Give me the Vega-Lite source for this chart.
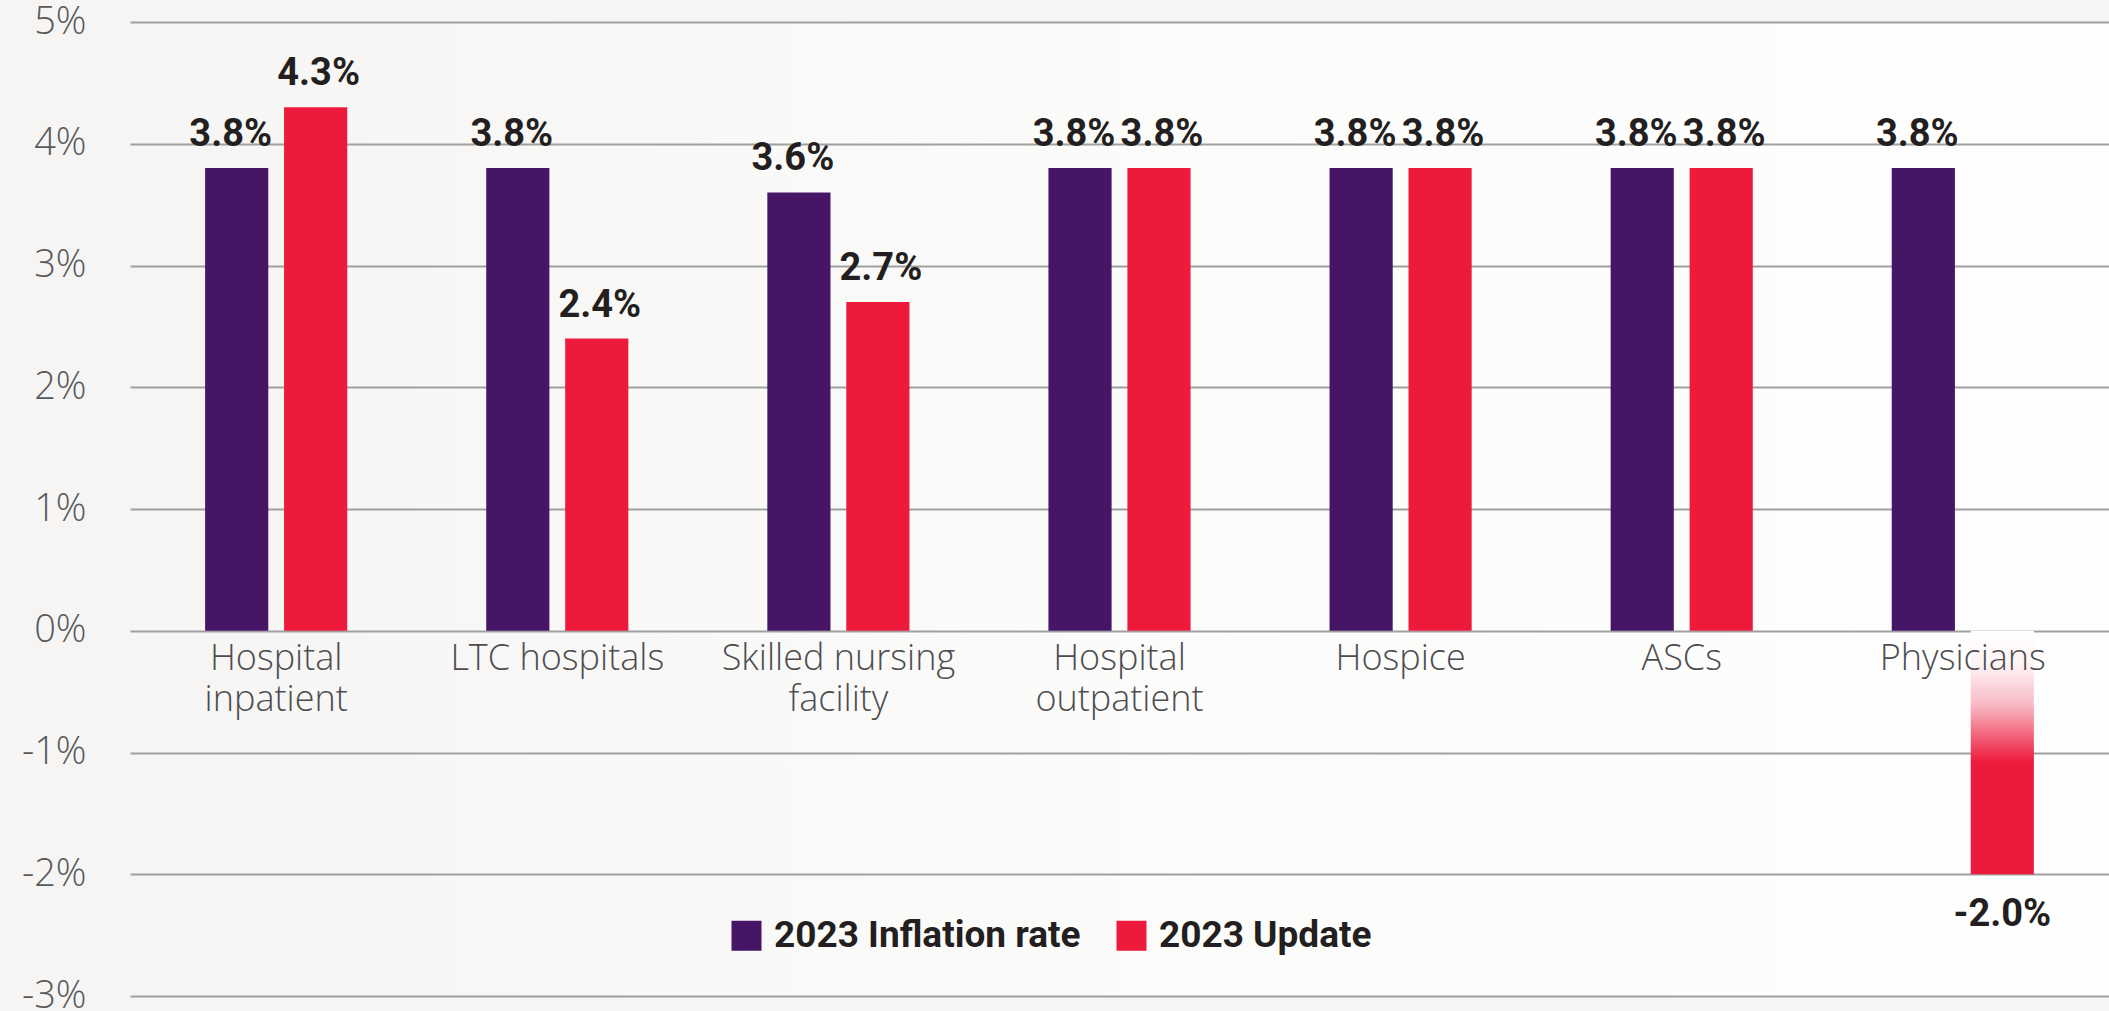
{
  "$schema": "https://vega.github.io/schema/vega-lite/v6.json",
  "width": 1979,
  "height": 974,
  "autosize": {"type": "none"},
  "padding": {"left": 130, "top": 22, "right": 0, "bottom": 15},
  "background": "#f6f5f3",
  "config": {
    "view": {"stroke": null, "fill": {"gradient": "linear", "x1": 0, "y1": 0, "x2": 1, "y2": 0, "stops": [{"offset": 0, "color": "#f6f5f3"}, {"offset": 0.5, "color": "#fbfbfa"}, {"offset": 1, "color": "#fefefe"}]}}
  },
  "data": {
    "values": [
      {"category": "Hospital inpatient", "series": "2023 Inflation rate", "value": 3.8},
      {"category": "Hospital inpatient", "series": "2023 Update", "value": 4.3},
      {"category": "LTC hospitals", "series": "2023 Inflation rate", "value": 3.8},
      {"category": "LTC hospitals", "series": "2023 Update", "value": 2.4},
      {"category": "Skilled nursing facility", "series": "2023 Inflation rate", "value": 3.6},
      {"category": "Skilled nursing facility", "series": "2023 Update", "value": 2.7},
      {"category": "Hospital outpatient", "series": "2023 Inflation rate", "value": 3.8},
      {"category": "Hospital outpatient", "series": "2023 Update", "value": 3.8},
      {"category": "Hospice", "series": "2023 Inflation rate", "value": 3.8},
      {"category": "Hospice", "series": "2023 Update", "value": 3.8},
      {"category": "ASCs", "series": "2023 Inflation rate", "value": 3.8},
      {"category": "ASCs", "series": "2023 Update", "value": 3.8},
      {"category": "Physicians", "series": "2023 Inflation rate", "value": 3.8},
      {"category": "Physicians", "series": "2023 Update", "value": -2.0}
    ]
  },
  "transform": [
    {"calculate": "replace(format(datum.value, '.1f'), '\u2212', '-') + '%'", "as": "label"}
  ],
  "encoding": {
    "x": {
      "field": "category",
      "type": "nominal",
      "sort": ["Hospital inpatient", "LTC hospitals", "Skilled nursing facility", "Hospital outpatient", "Hospice", "ASCs", "Physicians"],
      "scale": {"paddingInner": 0, "paddingOuter": 0.02},
      "axis": {
        "orient": "bottom",
        "offset": -365,
        "title": null,
        "domain": false,
        "ticks": false,
        "grid": false,
        "labelAngle": 0,
        "labelFont": "Open Sans",
        "labelFontWeight": 300,
        "labelFontSize": 36,
        "labelColor": "#4d4d4f",
        "labelPadding": 10,
        "labelLineHeight": 41,
        "labelLimit": 500,
        "labelBaseline": "top",
        "zindex": 1,
        "labelExpr": "datum.label == 'LTC hospitals' || indexof(datum.label, ' ') < 0 ? datum.label : [substring(datum.label, 0, lastindexof(datum.label, ' ')), substring(datum.label, lastindexof(datum.label, ' ') + 1)]"
      }
    },
    "xOffset": {
      "field": "series",
      "type": "nominal",
      "sort": ["2023 Inflation rate", "2023 Update"],
      "scale": {"paddingInner": 0.2, "paddingOuter": 0.88}
    },
    "y": {
      "field": "value",
      "type": "quantitative",
      "scale": {"domain": [-3, 5], "nice": false, "zero": false},
      "axis": {
        "values": [-3, -2, -1, 0, 1, 2, 3, 4, 5],
        "labelExpr": "datum.value + '%'",
        "title": null,
        "domain": false,
        "ticks": false,
        "labelPadding": 44,
        "labelFont": "Open Sans",
        "labelFontWeight": 300,
        "labelFontSize": 38,
        "labelColor": "#58595b",
        "gridColor": "#a0a0a0",
        "gridWidth": 2,
        "gridOpacity": 1
      }
    }
  },
  "layer": [
    {
      "transform": [{"filter": "!(datum.category == 'Physicians' && datum.series == '2023 Update')"}],
      "mark": {"type": "bar"},
      "encoding": {
        "color": {
          "field": "series",
          "type": "nominal",
          "sort": ["2023 Inflation rate", "2023 Update"],
          "scale": {"domain": ["2023 Inflation rate", "2023 Update"], "range": ["#461566", "#ee1a3c"]},
          "legend": {
            "orient": "none",
            "legendX": 598,
            "legendY": 895,
            "direction": "horizontal",
            "title": null,
            "symbolType": "square",
            "symbolSize": 900,
            "symbolStrokeWidth": 0,
            "symbolOpacity": 1,
            "labelFont": "Roboto",
            "labelFontWeight": "bold",
            "labelFontSize": 37,
            "labelColor": "#231f20",
            "labelOffset": 9,
            "labelLimit": 500,
            "columnPadding": 32
          }
        }
      }
    },
    {
      "transform": [{"filter": "datum.category == 'Physicians' && datum.series == '2023 Update'"}],
      "mark": {
        "type": "bar",
        "color": {"gradient": "linear", "x1": 0, "y1": 0, "x2": 0, "y2": 1, "stops": [
          {"offset": 0, "color": "#ffffff"},
          {"offset": 0.14, "color": "#fef3f5"},
          {"offset": 0.3, "color": "#f8bcc6"},
          {"offset": 0.54, "color": "#ee1a3c"},
          {"offset": 1, "color": "#ee1a3c"}
        ]}
      }
    },
    {
      "transform": [{"filter": "datum.value >= 0 && datum.series == '2023 Inflation rate'"}],
      "mark": {"type": "text", "baseline": "alphabetic", "dy": -22, "dx": -6, "font": "Roboto", "fontWeight": "bold", "fontSize": 38, "color": "#231f20"},
      "encoding": {"text": {"field": "label"}}
    },
    {
      "transform": [{"filter": "datum.value >= 0 && datum.series == '2023 Update'"}],
      "mark": {"type": "text", "baseline": "alphabetic", "dy": -22, "dx": 3, "font": "Roboto", "fontWeight": "bold", "fontSize": 38, "color": "#231f20"},
      "encoding": {"text": {"field": "label"}}
    },
    {
      "transform": [{"filter": "datum.value < 0"}],
      "mark": {"type": "text", "baseline": "alphabetic", "dy": 52, "font": "Roboto", "fontWeight": "bold", "fontSize": 38, "color": "#231f20"},
      "encoding": {"text": {"field": "label"}}
    }
  ]
}
